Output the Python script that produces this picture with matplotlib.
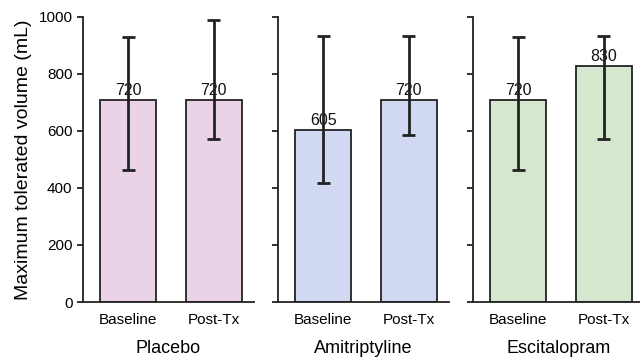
import matplotlib.pyplot as plt
import numpy as np

plt.rcParams['font.family'] = ['Liberation Sans', 'DejaVu Sans']

# ------------------------------
# Data
# ------------------------------
groups = ["Placebo", "Amitriptyline", "Escitalopram"]
phases = ["Baseline", "Post-Tx"]

heights = [[710, 710], [604, 710], [710, 829]]
value_labels = [["720", "720"], ["605", "720"], ["720", "830"]]
err_low = [[463, 573], [419, 586], [462, 573]]
err_high = [[931, 989], [935, 933], [931, 932]]

bar_colors = ["#ead3e6", "#d0d9f1", "#d6e7cf"]
edge = "#222222"

# ------------------------------
# Figure: three side-by-side panels
# ------------------------------
fig = plt.figure(figsize=(6.4, 3.6), dpi=100)
W, H = 640, 360
lefts = [83, 278, 473]
ax_w, ax_bottom, ax_top = 171, 302, 17

x = np.arange(len(phases))
for i, grp in enumerate(groups):
    ax = fig.add_axes([lefts[i] / W, (H - ax_bottom) / H,
                       ax_w / W, (ax_bottom - ax_top) / H])
    ax.bar(x, heights[i], width=0.655, color=bar_colors[i],
           edgecolor=edge, linewidth=1.3, zorder=2)
    for j in range(len(phases)):
        ax.text(x[j], heights[i][j] + 5, value_labels[i][j], ha="center",
                va="bottom", fontsize=11.5, color="#111111", zorder=3)
        ax.plot([x[j], x[j]], [err_low[i][j], err_high[i][j]],
                color=edge, lw=2, zorder=4, solid_capstyle="butt")
        for yv in (err_low[i][j], err_high[i][j]):
            ax.plot([x[j] - 0.075, x[j] + 0.075], [yv, yv],
                    color=edge, lw=2, zorder=4, solid_capstyle="butt")

    ax.set_xlim(-0.53, 1.47)
    ax.set_ylim(0, 1000)
    ax.set_xticks(x)
    ax.set_xticklabels(phases, fontsize=11)
    ax.set_yticks(range(0, 1001, 200))
    ax.tick_params(axis="x", length=0, pad=8)
    ax.tick_params(axis="y", length=4.5, width=1.3, labelsize=11, color=edge, pad=3)
    if i > 0:
        ax.set_yticklabels([])
    else:
        ax.set_ylabel("Maximum tolerated volume (mL)", fontsize=14, labelpad=5)
    ax.set_xlabel(grp, fontsize=13, labelpad=9)
    for s in ("top", "right"):
        ax.spines[s].set_visible(False)
    for s in ("left", "bottom"):
        ax.spines[s].set_linewidth(1.3)
        ax.spines[s].set_color(edge)

fig.savefig("out.png", dpi=100)
